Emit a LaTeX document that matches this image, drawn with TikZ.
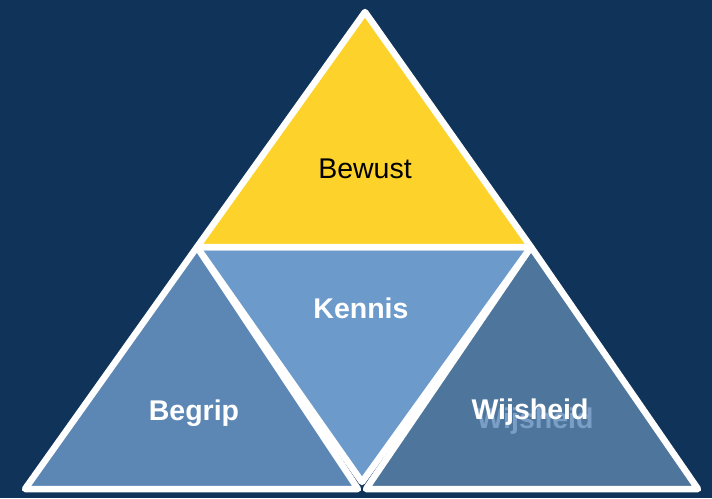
\documentclass[tikz,border=0pt]{standalone}
\usepackage{fontspec}
\setmainfont{Liberation Sans}
\usetikzlibrary{positioning}
\definecolor{bgnavy}{HTML}{0F3359}
\definecolor{yellownode}{HTML}{FDD32B}
\definecolor{kennisbg}{HTML}{6C9ACA}
\definecolor{begripbg}{HTML}{5C87B4}
\definecolor{wijsbg}{HTML}{52799F}
\definecolor{shadowblue}{HTML}{8DB0D8}
\tikzset{
      tri/.style = {draw=white, line width=6.5pt, line join=round},   % white edged triangle
  lbltext/.style = {font=\fontsize{28.5}{32}\selectfont\bfseries, text=white, anchor=base, inner sep=0pt},
}

\begin{document}
\begin{tikzpicture}[x=1pt,y=-1pt]
 \fill[bgnavy] (0,0) rectangle (712,498);
 \useasboundingbox (0,0) rectangle (712,498);
 % corners of the pyramid
 \coordinate (top) at (365,12);
 \coordinate (ml) at (197,247);
 \coordinate (mr) at (531,247);
 \coordinate (bl) at (25,489);
 \coordinate (bm) at (362,482);
 \coordinate (bml) at (358,489);
 \coordinate (bmr) at (366,489);
 \coordinate (br) at (698,489);
 % triangles
 \path[tri,fill=begripbg] (ml) -- (bml) -- (bl) -- cycle;
 \draw[shadowblue,opacity=.55,line width=4pt,line join=round,shift={(4,6)}] (mr) -- (bmr) -- (br) -- cycle;
 \path[tri,fill=wijsbg,fill opacity=.95] (mr) -- (br) -- (bmr) -- cycle;
 \path[tri,fill=kennisbg] (ml) -- (mr) -- (bm) -- cycle;
 \path[tri,fill=yellownode] (top) -- (mr) -- (ml) -- cycle;
 % labels
 \node[anchor=base,inner sep=0pt,font=\fontsize{28.5}{32}\selectfont] (bewust) at (365,178) {Bewust};
 \node[lbltext] (kennis) at (361,318) {Kennis};
 \node[lbltext] (begrip) at (194,420) {Begrip};
 \node[lbltext,text=shadowblue,text opacity=.7] (wijsshadow) at (535,428) {Wijsheid};
 \node[lbltext] (wijsheid) at (530,419) {Wijsheid};
\end{tikzpicture}
\end{document}
